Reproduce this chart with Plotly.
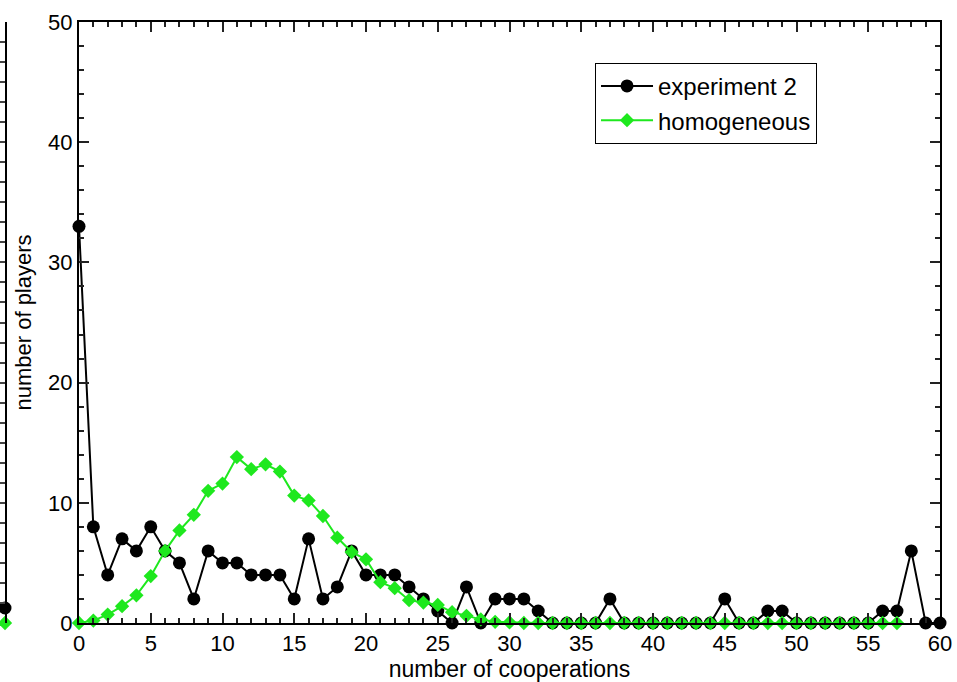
import plotly.graph_objects as go

# data
coop = list(range(0, 61))
experiment2 = [33, 8, 4, 7, 6, 8, 6, 5, 2, 6,
               5, 5, 4, 4, 4, 2, 7, 2, 3, 6,
               4, 4, 4, 3, 2, 1, 0, 3, 0, 2,
               2, 2, 1, 0, 0, 0, 0, 2, 0, 0,
               0, 0, 0, 0, 0, 2, 0, 0, 1, 1,
               0, 0, 0, 0, 0, 0, 1, 1, 6, 0,
               0]
coop_h = list(range(0, 58))
homogeneous = [0, 0.2, 0.7, 1.4, 2.3, 3.9, 6.0, 7.7, 9.0, 11.0,
               11.6, 13.8, 12.8, 13.2, 12.6, 10.6, 10.2, 8.9, 7.1, 5.9,
               5.3, 3.4, 2.9, 1.9, 1.7, 1.5, 0.9, 0.6, 0.3, 0.1,
               0.05, 0, 0, 0, 0, 0, 0, 0, 0, 0,
               0, 0, 0, 0, 0, 0, 0, 0, 0, 0,
               0, 0, 0, 0, 0, 0, 0, 0]
# edge of the neighbouring panel (cut off on the left)
left_x = [0]
left_black = [1.5]
left_green = [0]

GREEN = "#1ee81e"
FONT = "Liberation Sans, Arial, sans-serif"

fig = go.Figure()

fig.add_trace(go.Scatter(
    x=coop, y=experiment2, name="experiment 2", mode="lines+markers",
    line=dict(color="black", width=2),
    marker=dict(symbol="circle", size=13, color="black"),
    cliponaxis=False,
))
fig.add_trace(go.Scatter(
    x=coop_h, y=homogeneous, name="homogeneous", mode="lines+markers",
    line=dict(color=GREEN, width=2),
    marker=dict(symbol="diamond", size=11, color=GREEN),
    cliponaxis=False,
))

# left strip panel
fig.add_trace(go.Scatter(
    x=left_x, y=left_black, mode="markers", xaxis="x2", yaxis="y2",
    marker=dict(symbol="circle", size=13, color="black"),
    showlegend=False, cliponaxis=False, hoverinfo="skip",
))
fig.add_trace(go.Scatter(
    x=left_x, y=left_green, mode="markers", xaxis="x2", yaxis="y2",
    marker=dict(symbol="diamond", size=11, color=GREEN),
    showlegend=False, cliponaxis=False, hoverinfo="skip",
))

fig.update_layout(
    width=957,
    height=682,
    margin=dict(l=0, r=17, t=22, b=59),
    plot_bgcolor="white",
    paper_bgcolor="white",
    font=dict(family=FONT, size=22, color="black"),
    showlegend=True,
    legend=dict(
        x=0.633, y=0.932, xanchor="left", yanchor="top",
        bordercolor="black", borderwidth=1, bgcolor="white",
        font=dict(size=24), itemwidth=52, tracegroupgap=0,
    ),
    xaxis=dict(
        domain=[79 / 940, 1],
        range=[0, 60],
        automargin=False,
        title=dict(text="number of cooperations", font=dict(size=23), standoff=2),
        tickmode="linear", tick0=0, dtick=5,
        ticks="inside", ticklen=10, tickwidth=2, tickcolor="#222",
        minor=dict(dtick=1, ticks="inside", ticklen=5, tickwidth=2, tickcolor="#222"),
        showline=True, linecolor="black", linewidth=2, mirror="allticks",
        showgrid=False, zeroline=False,
        anchor="y",
    ),
    yaxis=dict(
        range=[0, 50],
        automargin=False,
        title=dict(text="number of players", font=dict(size=22), standoff=10),
        tickmode="linear", tick0=0, dtick=10,
        ticks="inside", ticklen=10, tickwidth=2, tickcolor="#222",
        minor=dict(dtick=2, ticks="inside", ticklen=5, tickwidth=2, tickcolor="#222"),
        showline=True, linecolor="black", linewidth=2, mirror="allticks",
        showgrid=False, zeroline=False,
        anchor="x",
    ),
    xaxis2=dict(
        domain=[0, 5 / 940], range=[-10, 0], automargin=False,
        showticklabels=False, ticks="", showline=False,
        showgrid=False, zeroline=False, anchor="y2",
    ),
    yaxis2=dict(
        range=[0, 60], side="right", anchor="x2", automargin=False,
        showticklabels=False,
        tickmode="linear", tick0=0, dtick=10,
        ticks="inside", ticklen=10, tickwidth=2, tickcolor="#444",
        minor=dict(dtick=2, ticks="inside", ticklen=5, tickwidth=2, tickcolor="#444"),
        showline=True, linecolor="black", linewidth=2, mirror=False,
        showgrid=False, zeroline=False,
    ),
)

# drop the browser's default page margin so the figure sits at (0, 0)
fig.write_html(
    "out.html",
    config={"displayModeBar": False},
    post_script="document.body.style.margin='0';document.body.style.overflow='hidden';",
)
